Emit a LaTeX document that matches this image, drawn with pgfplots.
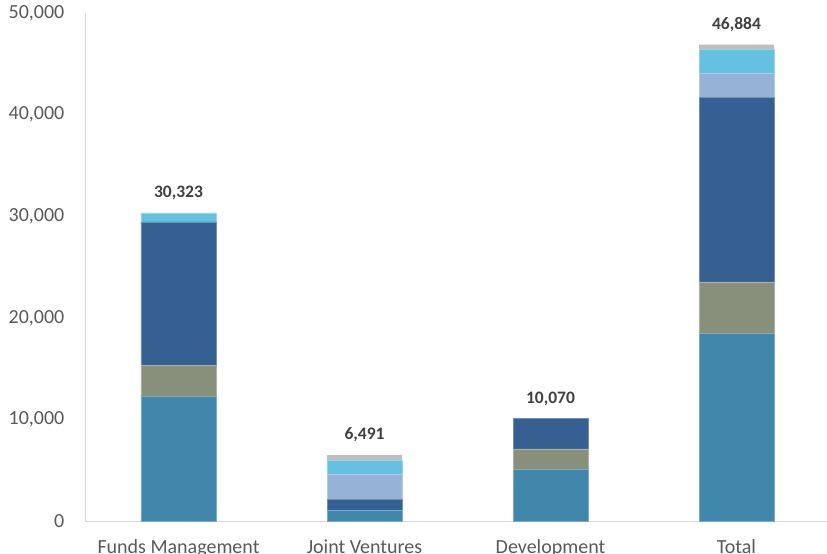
\documentclass[border=0pt]{standalone}
\usepackage{pgfplots}
\usepackage{pgfplotstable}
\pgfplotsset{compat=1.18}
\usepackage{fontspec}
\setmainfont{Carlito}
\definecolor{cTeal}{HTML}{4087AB}
\definecolor{cGG}{HTML}{88907C}
\definecolor{cDB}{HTML}{366092}
\definecolor{cLB}{HTML}{95B3D7}
\definecolor{cCy}{HTML}{64C1E0}
\definecolor{cGr}{HTML}{BFBFBF}
\definecolor{tickc}{HTML}{595959}
\definecolor{labc}{HTML}{404040}
\definecolor{axc}{HTML}{D9D9D9}
\pgfplotstableread{
x teal gg db lb cy gr total
0 12250 3100 14100 0 873 0 30323
1 1080 0 1080 2400 1450 481 6491
2 5100 2000 2970 0 0 0 10070
3 18430 5100 18150 2400 2323 481 46884
}\data
\begin{document}
\begin{tikzpicture}
\begin{axis}[
  name=ax,
  scale only axis,
  width=744bp, height=508bp,
  ybar stacked,
  bar width=75bp,
  xmin=-0.5, xmax=3.5,
  ymin=0, ymax=50000,
  axis x line=bottom, axis y line=left,
  axis line style={-, draw=axc, line width=0.8bp},
  major tick length=0pt,
  xtick=data,
  xticklabels={Funds Management, Joint Ventures, Development, Total},
  xticklabel style={anchor=base, yshift=-32.5bp, inner sep=0pt, font=\fontsize{20bp}{24bp}\selectfont, text=tickc},
  ytick={0,10000,20000,30000,40000,50000},
  yticklabel style={anchor=east, inner sep=0pt, xshift=-21bp, font=\fontsize{20bp}{24bp}\selectfont, text=tickc},
  /pgf/number format/assume math mode=true,
  scaled y ticks=false,
  yticklabel={\pgfmathprintnumber[fixed,1000 sep={,}]{\tick}},
]
\addplot[fill=cTeal, draw=cTeal!70!white, line width=0.5bp] table[x=x, y=teal] {\data};
\addplot[fill=cGG, draw=cGG!70!white, line width=0.5bp] table[x=x, y=gg] {\data};
\addplot[fill=cDB, draw=cDB!70!white, line width=0.5bp] table[x=x, y=db] {\data};
\addplot[fill=cLB, draw=cLB!70!white, line width=0.5bp] table[x=x, y=lb] {\data};
\addplot[fill=cCy, draw=cCy!70!white, line width=0.5bp] table[x=x, y=cy] {\data};
\addplot[fill=cGr, draw=none] table[x=x, y=gr] {\data};
\end{axis}
\begin{axis}[
  at={(ax.south west)}, anchor=south west,
  scale only axis,
  width=744bp, height=508bp,
  xmin=-0.5, xmax=3.5,
  ymin=0, ymax=50000,
  hide axis,
]
\addplot[draw=none, mark=none,
  nodes near coords,
  point meta=explicit,
  every node near coord/.append style={anchor=base, yshift=15.5bp, inner sep=0pt,
    font=\bfseries\fontsize{17.5bp}{21bp}\selectfont, text=labc,
    /pgf/number format/fixed, /pgf/number format/1000 sep={,}, /pgf/number format/assume math mode=true},
] table[x=x, y=total, meta=total] {\data};
\end{axis}
\pgfresetboundingbox
\path[use as bounding box] ([xshift=-85.5bp, yshift=-33bp]ax.south west) rectangle ([xshift=-2.5bp, yshift=13bp]ax.north east);
\end{tikzpicture}
\end{document}
